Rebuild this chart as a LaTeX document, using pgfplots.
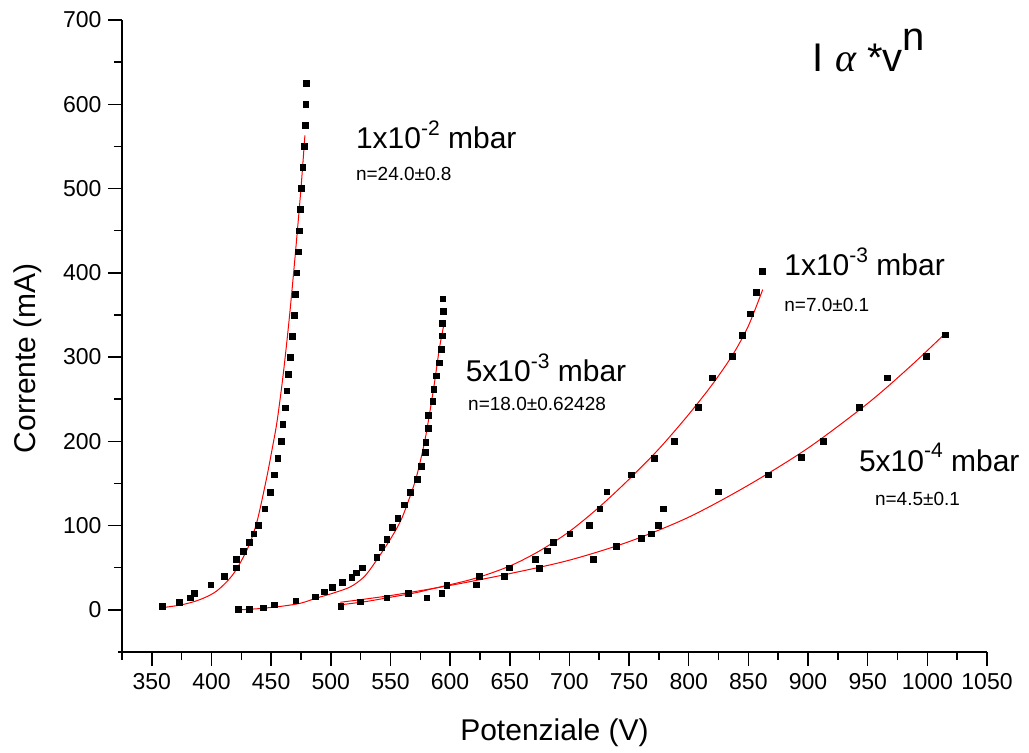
\documentclass[border=0pt]{standalone}
\usepackage{pgfplots}
\pgfplotsset{compat=1.18}
\usepackage{fontspec}
\setmainfont{Liberation Sans}
\newfontfamily\greekserif{Liberation Serif}
\newcommand{\sups}[1]{\raisebox{0.45em}{\fontsize{21}{21}\selectfont #1}}
\newcommand{\anbig}{\fontsize{30}{30}\selectfont}
\newcommand{\ansmall}{\fontsize{19}{19}\selectfont}
\begin{document}
\begin{tikzpicture}
\begin{axis}[
  scale only axis, width=865pt, height=632pt,
  xmin=325, xmax=1050, ymin=-50, ymax=700,
  axis x line=bottom, axis y line=left,
  axis line style={-, line width=1.5pt, black},
  x axis line style={shorten <=-4pt},
  y axis line style={shorten <=-8pt},
  xtick={350,400,...,1050}, ytick={0,100,...,700},
  minor x tick num=1, minor y tick num=1,
  tick align=outside, major tick length=14pt, minor tick length=8pt,
  every tick/.style={black, line width=1.5pt},
  /pgf/number format/assume math mode=true,
  /pgf/number format/1000 sep={},
  ticklabel style={font=\fontsize{23}{23}\selectfont},
  xticklabel style={yshift=-4pt},
  yticklabel style={xshift=-3pt},
  xlabel={Potenziale (V)}, ylabel={Corrente (mA)},
  every axis x label/.style={at={(rel axis cs:0.5,-0.128)}, anchor=center, font=\fontsize{30}{30}\selectfont},
  every axis y label/.style={at={(rel axis cs:-0.109,0.465)}, anchor=center, rotate=90, font=\fontsize{30}{30}\selectfont},
  clip=false,
]
% series 1: 1e-2 mbar
\addplot[only marks, mark=square*, mark size=2.9pt, black] coordinates {
(358.5,4.5)(372.8,9.3)(382.3,14.4)(385.3,19.6)(399.3,29.9)(410.5,39.7)(420.5,50)(420.5,59.9)(426.4,69.7)(431.4,80)(435.4,90.3)(439.2,100.2)(444.6,120)(449.3,140.1)(452.4,160.3)(455.5,180.4)(458.2,200.6)(459.7,220.7)(461.5,240)(463,260)(464.5,280)(466,300)(467.5,325)(469,350)(470.5,375)(471.5,400)(472.5,425)(473.5,450)(474.5,475)(475.5,500)(476.5,525)(477.5,550)(478.3,575)(479,600)(479.5,625)};
\addplot[red, line width=1pt, smooth] coordinates {
(358.5,2.6)(375,6)(390,12)(404,22)(418,42)(430,72)(438,104)(446,155)(451,192)(455,224)(460,278)(465,343)(470,418)(475,500)(478.3,563)};
% series 2: 5e-3 mbar
\addplot[only marks, mark=square*, mark size=2.9pt, black] coordinates {
(422.5,0.6)(431.4,0.6)(443.4,2.6)(452.4,6.2)(470.6,10.9)(486.7,15.6)(494.3,21.6)(501.5,26.7)(509.6,32.6)(517.5,39)(521,44)(526.4,50)(538.4,62.6)(542.6,74.4)(546.8,84)(551.5,98)(556,109)(561.3,124.7)(566.6,139.6)(572.4,155.5)(576.1,170.5)(579.2,186.7)(579.5,199.4)(581.4,216)(581.4,230.6)(585.4,247.2)(586.2,262.2)(588.5,278)(590.7,293.4)(592.6,309.2)(593.5,325.4)(593.5,340.4)(594.3,354.2)(593.8,369.2)};
\addplot[red, line width=1pt, smooth] coordinates {
(422.5,0)(440,1.5)(460,4.5)(475,8)(488,14)(500,19)(516,27)(527,38)(535,52)(550,84)(559,107)(566,133)(572,159)(579,202)(586,261)(591,310)(595,340)};
% series 3: 1e-3 mbar
\addplot[only marks, mark=square*, mark size=2.9pt, black] coordinates {
(508.3,4.5)(546.8,14.4)(580.4,14.4)(597.1,29.4)(624.5,39.7)(649.5,50)(671,60)(681.4,70.2)(686.3,80)(700.2,90.3)(716.3,100.2)(725.4,120)(731.2,140.3)(751.5,160.3)(771.3,180.4)(787.6,200.6)(807.7,240.9)(819.5,275.6)(836.4,301.3)(844.7,326.2)(851.4,351.5)(856.8,376.7)(861.9,401.6)};
\addplot[red, line width=1pt, smooth] coordinates {
(508,6)(530,10)(550,15)(570,20)(585,25)(620,37)(650,52)(675,70)(700,93)(725,122)(750,155)(775,191)(800,232)(820,268)(837,303)(850,337)(862,380)};
% series 4: 5e-4 mbar
\addplot[only marks, mark=square*, mark size=2.9pt, black] coordinates {
(524.4,9.7)(565,19.6)(592.9,19.6)(621.7,29.9)(645.5,39.7)(674.6,49.8)(719.8,59.9)(739.3,75.4)(760.4,85.1)(768.3,90.3)(774.7,100.2)(778.6,120)(824.7,140.3)(866.6,160.4)(894.5,180.8)(912.6,200.6)(942.8,240.9)(966.6,275.6)(999.3,301.3)(1014.7,326.6)};
\addplot[red, line width=1pt, smooth] coordinates {
(508,9)(550,17)(600,29)(650,43)(700,59)(750,81)(800,110)(850,148)(900,192)(950,245)(985,288)(1015,328)};
% annotations
\node[anchor=base west, inner sep=0pt] at (axis cs:521,547) {\anbig 1x10\sups{-2} mbar};
\node[anchor=base west, inner sep=0pt] at (axis cs:521,509) {\ansmall n=24.0±0.8};
\node[anchor=base west, inner sep=0pt] at (axis cs:613,271) {\anbig 5x10\sups{-3} mbar};
\node[anchor=base west, inner sep=0pt] at (axis cs:615,237) {\ansmall n=18.0±0.62428};
\node[anchor=base west, inner sep=0pt] at (axis cs:880,396.5) {\anbig 1x10\sups{-3} mbar};
\node[anchor=base west, inner sep=0pt] at (axis cs:880,354) {\ansmall n=7.0±0.1};
\node[anchor=base west, inner sep=0pt] at (axis cs:942.6,164.5) {\anbig 5x10\sups{-4} mbar};
\node[anchor=base west, inner sep=0pt] at (axis cs:956,124) {\ansmall n=4.5±0.1};
\node[anchor=base west, inner sep=0pt] at (axis cs:903.8,638.7) {\fontsize{40}{40}\selectfont I {\greekserif\itshape α} *v\raisebox{0.54em}{n}};
\coordinate (bl) at (rel axis cs:-0.14104,-0.15981);
\coordinate (tr) at (rel axis cs:1.04855,1.03165);
\end{axis}
\pgfresetboundingbox
\useasboundingbox (bl) rectangle (tr);
\end{tikzpicture}
\end{document}
